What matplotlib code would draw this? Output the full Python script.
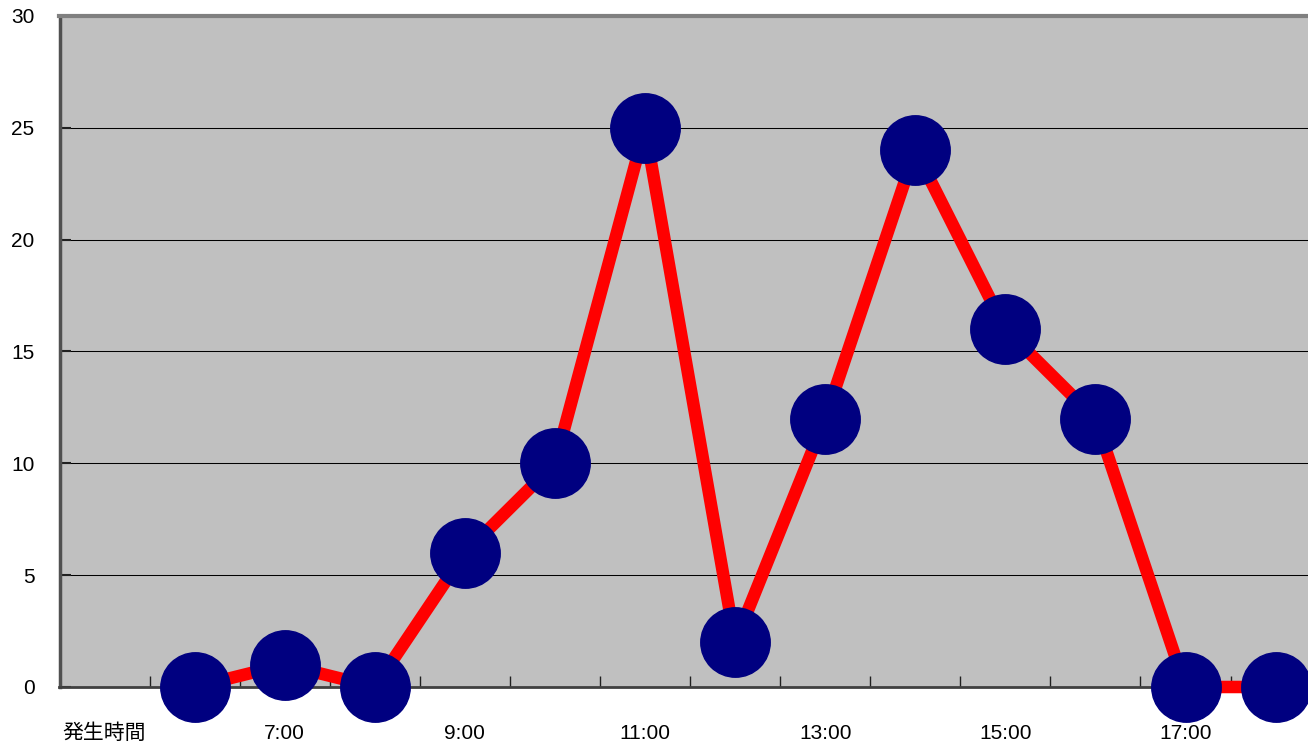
import matplotlib.pyplot as plt
import numpy as np

plt.rcParams['font.family'] = ['Liberation Sans', 'Noto Sans CJK JP']

# 発生時間ごとの件数
categories = ['発生時間', '6:00', '7:00', '8:00', '9:00', '10:00', '11:00', '12:00',
              '13:00', '14:00', '15:00', '16:00', '17:00', '18:00']
counts = [None, 0, 1, 0, 6, 10, 25, 2, 12, 24, 16, 12, 0, 0]
y_ticks = [0, 5, 10, 15, 20, 25, 30]

W, H, DPI = 1308, 743, 100
fig = plt.figure(figsize=(W / DPI, H / DPI), dpi=DPI)
left_px, top_px, bottom_px = 59.5, 16, 687
ax = fig.add_axes([left_px / W, 1 - bottom_px / H, 1 - left_px / W, (bottom_px - top_px) / H])
ax.set_facecolor('#c0c0c0')

x = np.arange(len(categories))
xs = [i for i, v in zip(x, counts) if v is not None]
ys = [v for v in counts if v is not None]

ax.plot(xs, ys, color='#ff0000', lw=9, solid_joinstyle='miter', zorder=3, clip_on=False)
ax.plot(xs, ys, ls='none', marker='o', ms=50, mfc='#000080', mec='#000080', zorder=4, clip_on=False)

# tick marks sit on category boundaries, labels on every other category
ax.set_xticks(np.arange(len(categories) - 1) + 0.5)
ax.set_xticklabels([])
ax.set_xticks(x[::2], minor=True)
ax.set_xticklabels(categories[::2], minor=True)
ax.tick_params(axis='x', which='major', direction='in', length=8, width=1, color='#202020')
ax.tick_params(axis='x', which='minor', length=0, pad=26.5, labelsize=15)

ax.set_yticks(y_ticks)
ax.set_yticklabels([str(v) for v in y_ticks])
ax.tick_params(axis='y', direction='in', length=8, width=1.5, color='#202020', pad=18, labelsize=15)

# set limits after the ticks so they are not widened again
cat_w = 90.08
ax.set_xlim(-0.5, (W - left_px) / cat_w - 0.5)
ax.set_ylim(0, 30)

ax.yaxis.grid(True, color='#000000', lw=0.75)
ax.set_axisbelow(True)

ax.spines['right'].set_visible(False)
ax.spines['top'].set_color('#808080')
ax.spines['top'].set_linewidth(3)
ax.spines['left'].set_color('#505050')
ax.spines['left'].set_linewidth(2.5)
ax.spines['bottom'].set_color('#404040')
ax.spines['bottom'].set_linewidth(2)

fig.savefig('out.png', dpi=DPI)
